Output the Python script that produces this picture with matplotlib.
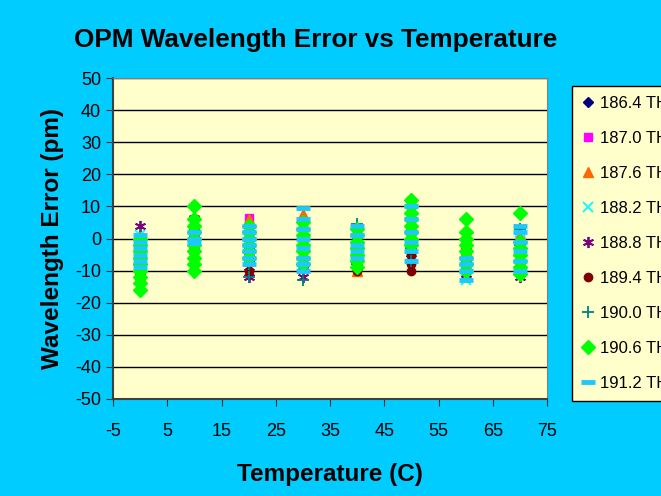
import matplotlib.pyplot as plt

plt.rcParams['font.family'] = ['Liberation Sans', 'DejaVu Sans']
plt.rcParams['axes.unicode_minus'] = False

temps = [0, 10, 20, 30, 40, 50, 60, 70]
labels = ['186.4 THz', '187.0 THz', '187.6 THz', '188.2 THz', '188.8 THz',
          '189.4 THz', '190.0 THz', '190.6 THz', '191.2 THz']

# error readings (pm) per channel, one list per temperature
err_1864 = [[-2, -5, -8, -11], [3, 0, -2], [2, -3, -7], [1, -4, -9],
            [0, -4, -8], [2, -3, -7], [-3, -7, -10], [-1, -5, -9]]
err_1870 = [[0, -4, -9], [4, 1, -3], [6.5, 1, -5], [5, -1, -7],
            [-1, -5, -9], [5, 0, -6], [-2, -6, -11], [0, -4, -10]]
err_1876 = [[-1, -6, -10], [5, 2, -2], [6, 2, -4], [7.5, 2, -5],
            [-3, -7, -10], [7, 3, -3], [-1, -5, -9], [1, -3, -8]]
err_1882 = [[1, -3, -8], [3, -1], [3, -2, -6], [4, -2, -8],
            [2, -3, -7], [4, -1, -5], [-3, -8, -13], [2, -3, -8]]
err_1888 = [[4, 0, -6, -12], [6.5, 5, 0, -4], [-4, -9, -12], [-2, -9, -12],
            [-6, -9], [2, -2, -6], [-4, -7, -11], [-6, -9, -12]]
err_1894 = [[-10, -14], [1, -3], [-6, -10], [-3, -8],
            [-8, -10], [-5, -8, -10], [-5, -9], [-5, -10]]
err_1900 = [[1, -5, -10], [2, -2], [-8, -12], [-4, -13],
            [4.5, -2, -8], [-3, -7], [-2, -6], [3, -2, -7]]
err_1906 = [[0, -2, -4, -6, -8, -10, -12, -14, -16],
            [10, 6, 4, 2, 0, -2, -4, -6, -8, -10],
            [4, 2, 0, -2, -4, -6],
            [5, 3, 1, -2, -4, -6, -8],
            [3, 1, -1, -3, -5, -7, -9],
            [12, 10, 8, 6, 4, 2, 0, -2],
            [6, 2, 0, -2, -4, -6, -8, -10],
            [8, -1, -3, -5, -7, -9, -11]]
err_1912 = [[1, -1, -3, -5, -7, -9], [2, 0, -1.5], [4, 2, 0, -2, -4, -6, -8],
            [9.5, 6, 3, 0, -3, -6, -8, -10], [4, 1, -2, -4, -6],
            [10, 6, 2, -1, -4, -7], [-6, -8, -10, -13], [4, 2, -1, -4, -7, -10]]

series = [err_1864, err_1870, err_1876, err_1882, err_1888,
          err_1894, err_1900, err_1906, err_1912]
styles = [
    dict(marker='D', color='#000080', ms=5),
    dict(marker='s', color='#FF00FF', ms=6),
    dict(marker='^', color='#FF6600', ms=7),
    dict(marker='x', color='#00FFFF', ms=7, mew=1.3),
    dict(marker=(6, 2, 0), color='#800080', ms=8, mew=1.3),
    dict(marker='o', color='#800000', ms=6),
    dict(marker='+', color='#008080', ms=8, mew=1.3),
    dict(marker='D', color='#00FF00', ms=7),
    dict(marker='_', color='#1EC8FA', ms=10, mew=3.5),
]

fig = plt.figure(figsize=(6.61, 4.96), dpi=100, facecolor='#00CCFF')
ax = fig.add_axes([0.171, 0.1956, 0.6566, 0.647], facecolor='#FFFFCC')

for vals, st, lab in zip(series, styles, labels):
    xs = [t for t, v in zip(temps, vals) for _ in v]
    ys = [y for v in vals for y in v]
    ax.plot(xs, ys, linestyle='none', label=lab, **st)

ax.set_xlim(-5, 75)
ax.set_ylim(-50, 50)
ax.set_xticks(range(-5, 76, 10))
ax.set_yticks(range(-50, 51, 10))
ax.grid(axis='y', color='black', lw=1)
ax.set_axisbelow(True)
ax.tick_params(labelsize=13, direction='out', length=5, color='#333333')
ax.tick_params(axis='x', pad=12)
for s in ['top', 'right']:
    ax.spines[s].set_color('#808080')
for s in ['left', 'bottom']:
    ax.spines[s].set_color('#404040')
    ax.spines[s].set_linewidth(1.5)

ax.set_xlabel('Temperature (C)', fontsize=17.5, fontweight='bold', labelpad=17)
ax.set_ylabel('Wavelength Error (pm)', fontsize=17.5, fontweight='bold', labelpad=8)
fig.text(0.478, 0.919, 'OPM Wavelength Error vs Temperature',
         fontsize=18.8, fontweight='bold', ha='center', va='center')

# the legend runs past the right edge of the figure and is cut there
leg = fig.legend(loc='upper left', bbox_to_anchor=(0.865, 0.827),
                 borderaxespad=0, fontsize=12, labelspacing=1.2,
                 handlelength=0.8, handletextpad=0.3, borderpad=0.6,
                 fancybox=False, facecolor='#FFFFCC', edgecolor='black',
                 framealpha=1)
leg.get_frame().set_linewidth(1)

fig.savefig('out.png', dpi=100, facecolor=fig.get_facecolor())
